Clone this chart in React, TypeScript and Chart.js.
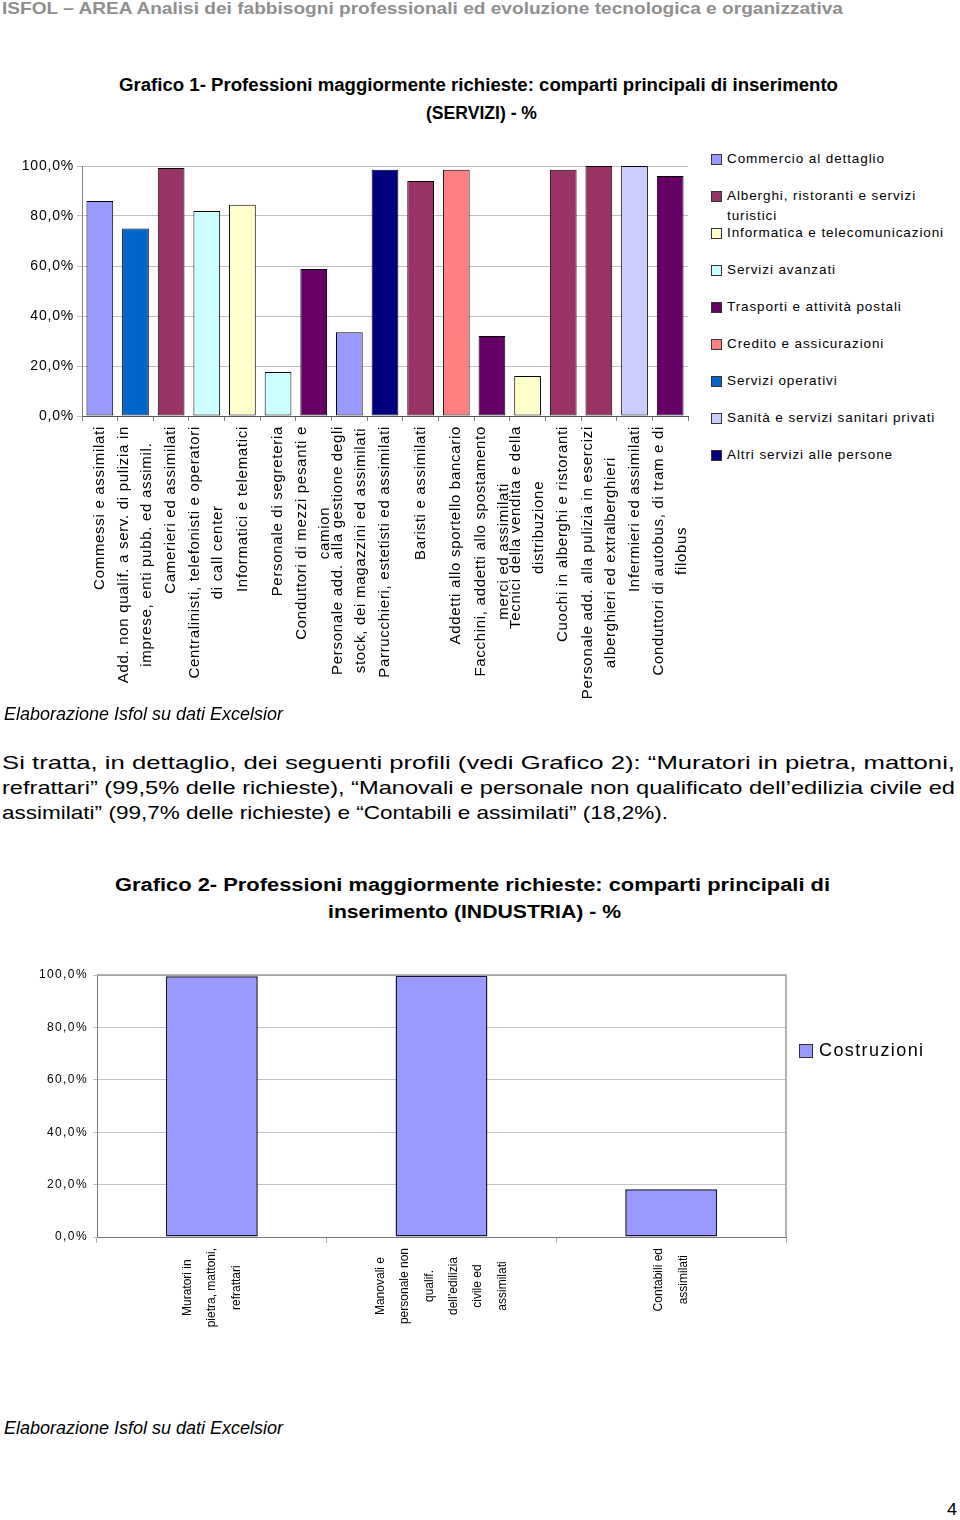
import React, { useEffect, useLayoutEffect, useRef } from 'react';
import { Chart, registerables } from 'chart.js';

Chart.register(...registerables);

// ---------- DATA: Grafico 1 (SERVIZI) ----------
const categories1: string[][] = [
  ['Commessi e assimilati'],
  ['Add. non qualif. a serv. di pulizia in', 'imprese, enti pubb. ed assimil.'],
  ['Camerieri ed assimilati'],
  ['Centralinisti, telefonisti e operatori', 'di call center'],
  ['Informatici e telematici'],
  ['Personale di segreteria'],
  ['Conduttori di mezzi pesanti e', 'camion'],
  ['Personale add. alla gestione degli', 'stock, dei magazzini ed assimilati'],
  ['Parrucchieri, estetisti ed assimilati'],
  ['Baristi e assimilati'],
  ['Addetti allo sportello bancario'],
  ['Facchini, addetti allo spostamento', 'merci ed assimilati'],
  ['Tecnici della vendita e della', 'distribuzione'],
  ['Cuochi in alberghi e ristoranti'],
  ['Personale add. alla pulizia in esercizi', 'alberghieri ed extralberghieri'],
  ['Infermieri ed assimilati'],
  ['Conduttori di autobus, di tram e di', 'filobus'],
];
const values1: number[] = [86, 75, 99.2, 82, 84.5, 17.6, 58.8, 33.5, 98.5, 94, 98.5, 32, 16, 98.5, 100, 100, 96];
// index into sectors1 for each category
const sectorOf1: number[] = [0, 6, 1, 3, 2, 3, 4, 0, 8, 1, 5, 4, 2, 1, 1, 7, 4];
const sectors1: string[] = [
  'Commercio al dettaglio',
  'Alberghi, ristoranti e servizi turistici',
  'Informatica e telecomunicazioni',
  'Servizi avanzati',
  'Trasporti e attività postali',
  'Credito e assicurazioni',
  'Servizi operativi',
  'Sanità e servizi sanitari privati',
  'Altri servizi alle persone',
];
const sectorColors1: string[] = ['#9999FF', '#993366', '#FFFFCC', '#CCFFFF', '#660066', '#FF8080', '#0066CC', '#CCCCFF', '#000080'];

// ---------- DATA: Grafico 2 (INDUSTRIA) ----------
const categories2: string[][] = [
  ['Muratori in', 'pietra, mattoni,', 'refrattari'],
  ['Manovali e', 'personale non', 'qualif.', 'dell\u2019edilizia', 'civile ed', 'assimilati'],
  ['Contabili ed', 'assimilati'],
];
const values2: number[] = [99.5, 99.7, 18.2];
const series2 = 'Costruzioni';
const color2 = '#9999FF';

const fmtPct = (v: number | string) => Number(v).toFixed(1).replace('.', ',') + '%';

function labelPlugin(id: string, labels: string[][], font: string, spacing: number, topOffset: number, ls: string) {
  return {
    id,
    afterDraw(chart: any) {
      const ctx = chart.ctx as CanvasRenderingContext2D;
      const xs = chart.scales.x;
      ctx.save();
      ctx.font = font;
      (ctx as any).letterSpacing = ls;
      ctx.fillStyle = '#000';
      ctx.textAlign = 'center';
      ctx.textBaseline = 'middle';
      labels.forEach((lines, i) => {
        const px = xs.getPixelForValue(i);
        const maxW = Math.max(...lines.map((l) => ctx.measureText(l).width));
        const top = chart.chartArea.bottom + topOffset;
        ctx.save();
        ctx.translate(px, top + maxW / 2);
        ctx.rotate(-Math.PI / 2);
        lines.forEach((l, j) => ctx.fillText(l, 0, (j - (lines.length - 1) / 2) * spacing));
        ctx.restore();
      });
      ctx.restore();
    },
  };
}

function spacingPlugin(ls: string) {
  return {
    id: 'ls',
    beforeUpdate(chart: any) { (chart.ctx as any).letterSpacing = ls; },
    beforeDraw(chart: any) { (chart.ctx as any).letterSpacing = ls; },
    afterDraw(chart: any) { (chart.ctx as any).letterSpacing = '0px'; },
  };
}

const frameRightPlugin = {
  id: 'frameRight',
  afterDatasetsDraw(chart: any) {
    const { ctx, chartArea } = chart;
    ctx.save();
    ctx.strokeStyle = '#999';
    ctx.lineWidth = 1.5;
    ctx.beginPath();
    ctx.moveTo(chartArea.left, chartArea.top);
    ctx.lineTo(chartArea.right, chartArea.top);
    ctx.lineTo(chartArea.right, chartArea.bottom);
    ctx.stroke();
    ctx.restore();
  },
};

function Chart1() {
  const ref = useRef<HTMLCanvasElement>(null);
  useEffect(() => {
    if (!ref.current) return;
    const chart = new Chart(ref.current, {
      type: 'bar',
      data: {
        labels: categories1.map((c) => c.join(' ')),
        datasets: sectors1.map((name, s) => ({
          label: name,
          data: values1.map((v, i) => (sectorOf1[i] === s ? v : null)),
          backgroundColor: sectorColors1[s],
          borderColor: '#000',
          borderWidth: 1,
          borderSkipped: false,
          grouped: false,
          barPercentage: 0.75,
          categoryPercentage: 1,
        })) as any,
      },
      options: {
        responsive: false,
        animation: false,
        layout: { padding: { top: 16, right: 12, bottom: 0, left: 0 } },
        plugins: { legend: { display: false }, tooltip: { enabled: false }, title: { display: false } },
        scales: {
          x: {
            ticks: { display: false },
            grid: { display: true, drawOnChartArea: false, drawTicks: true, tickLength: 5, color: '#808080', offset: true },
            border: { color: '#555', width: 1 },
            afterFit: (s: any) => { s.height = 294; },
          },
          y: {
            min: 0,
            max: 100,
            ticks: { stepSize: 20, callback: (v: any) => fmtPct(v), color: '#000', font: { family: 'Liberation Sans, Arial, sans-serif', size: 14 }, padding: 3 },
            grid: { color: '#c0c0c0', tickLength: 5, drawTicks: true },
            border: { color: '#808080', width: 1 },
            afterFit: (s: any) => { s.width = 82; },
          },
        },
      },
      plugins: [spacingPlugin('0.8px'), labelPlugin('xl1', categories1, '15px "Liberation Sans", Arial, sans-serif', 23, 10, '0.7px')],
    } as any);
    return () => chart.destroy();
  }, []);
  return <canvas ref={ref} width={700} height={560} style={{ position: 'absolute', left: 0, top: 150, width: 700, height: 560 }} />;
}

function Chart2() {
  const ref = useRef<HTMLCanvasElement>(null);
  useEffect(() => {
    if (!ref.current) return;
    const chart = new Chart(ref.current, {
      type: 'bar',
      data: {
        labels: categories2.map((c) => c.join(' ')),
        datasets: [
          {
            label: series2,
            data: values2,
            backgroundColor: color2,
            borderColor: '#111133',
            borderWidth: 1.5,
            borderSkipped: false,
            barPercentage: 0.4,
            categoryPercentage: 1,
          },
        ],
      },
      options: {
        responsive: false,
        animation: false,
        layout: { padding: { top: 25, right: 14, bottom: 0, left: 0 } },
        plugins: { legend: { display: false }, tooltip: { enabled: false } },
        scales: {
          x: {
            ticks: { display: false },
            grid: { display: true, drawOnChartArea: false, drawTicks: true, tickLength: 6, color: '#b0b0b0', offset: true },
            border: { color: '#777', width: 1 },
            afterFit: (s: any) => { s.height = 133; },
          },
          y: {
            min: 0,
            max: 100,
            ticks: { stepSize: 20, callback: (v: any) => fmtPct(v), color: '#000', font: { family: 'Liberation Sans, Arial, sans-serif', size: 12 }, padding: 5 },
            grid: { color: '#c4c4c4', tickLength: 4, drawTicks: true },
            border: { color: '#777', width: 1 },
            afterFit: (s: any) => { s.width = 97; },
          },
        },
      },
      plugins: [spacingPlugin('1.4px'), frameRightPlugin, labelPlugin('xl2', categories2, '12px "Liberation Sans", Arial, sans-serif', 24.4, 11, '0px')],
    } as any);
    return () => chart.destroy();
  }, []);
  return <canvas ref={ref} width={800} height={420} style={{ position: 'absolute', left: 0, top: 950, width: 800, height: 420 }} />;
}

type FitProps = { text: string; x: number; y: number; w: number; size: number; bold?: boolean; italic?: boolean; color?: string };

function FitText({ text, x, y, w, size, bold, italic, color }: FitProps) {
  const ref = useRef<HTMLSpanElement>(null);
  useLayoutEffect(() => {
    const fit = () => {
      const el = ref.current;
      if (!el) return;
      el.style.transform = 'none';
      const nat = el.getBoundingClientRect().width;
      if (nat > 0) el.style.transform = `scaleX(${w / nat})`;
    };
    fit();
    (document as any).fonts?.ready?.then(fit);
  }, [text, w]);
  return (
    <span
      ref={ref}
      style={{
        position: 'absolute',
        left: x,
        top: y - size * 0.6,
        whiteSpace: 'pre',
        fontFamily: '"Liberation Sans", Arial, sans-serif',
        fontSize: size,
        lineHeight: `${size * 1.2}px`,
        fontWeight: bold ? 'bold' : 'normal',
        fontStyle: italic ? 'italic' : 'normal',
        color: color || '#000',
        transformOrigin: '0 50%',
      }}
    >
      {text}
    </span>
  );
}

function Legend1() {
  return (
    <>
      {sectors1.map((name, i) => (
        <div key={name} style={{ position: 'absolute', left: 711, top: 149 + i * 37, width: 245 }}>
          <div style={{ position: 'absolute', left: 0, top: 5, width: 9, height: 9, background: sectorColors1[i], border: '1px solid #333' }} />
          <div
            style={{
              position: 'absolute',
              left: 16,
              top: 0,
              width: 232,
              fontFamily: '"Liberation Sans", Arial, sans-serif',
              fontSize: 13.5,
              lineHeight: '20px',
              letterSpacing: '0.9px',
              color: '#000',
            }}
          >
            {name}
          </div>
        </div>
      ))}
    </>
  );
}

function Legend2() {
  return (
    <div style={{ position: 'absolute', left: 799, top: 1039 }}>
      <div style={{ position: 'absolute', left: 0, top: 5, width: 12, height: 12, background: color2, border: '1px solid #333' }} />
      <div style={{ position: 'absolute', left: 20, top: 0, whiteSpace: 'nowrap', fontFamily: '"Liberation Sans", Arial, sans-serif', fontSize: 18, lineHeight: '22px', letterSpacing: '1.4px' }}>
        {series2}
      </div>
    </div>
  );
}

export default function App() {
  return (
    <div style={{ position: 'absolute', left: 0, top: 0, width: 960, height: 1520, background: '#fff', overflow: 'hidden' }}>
      <FitText text={'ISFOL \u2013 AREA Analisi dei fabbisogni professionali ed evoluzione tecnologica e organizzativa'} x={2} y={9} w={841} size={17} bold color="#8f8f8f" />
      <FitText text="Grafico 1- Professioni maggiormente richieste: comparti principali di inserimento" x={119} y={86} w={719} size={18} bold />
      <FitText text="(SERVIZI) - %" x={426} y={114} w={111} size={18} bold />
      <Chart1 />
      <Legend1 />
      <FitText text="Elaborazione Isfol su dati Excelsior" x={4} y={714} w={279} size={17.5} italic />
      <FitText text={'Si tratta, in dettaglio, dei seguenti profili (vedi Grafico 2): \u201cMuratori in pietra, mattoni,'} x={2} y={763} w={953} size={19} />
      <FitText text={'refrattari\u201d (99,5% delle richieste), \u201cManovali e personale non qualificato dell\u2019edilizia civile ed'} x={2} y={788} w={953} size={19} />
      <FitText text={'assimilati\u201d (99,7% delle richieste) e \u201cContabili e assimilati\u201d (18,2%).'} x={2} y={813} w={666} size={19} />
      <FitText text="Grafico 2- Professioni maggiormente richieste: comparti principali di" x={115} y={886} w={715} size={18} bold />
      <FitText text="inserimento (INDUSTRIA) - %" x={328} y={913} w={293} size={18} bold />
      <Chart2 />
      <Legend2 />
      <FitText text="Elaborazione Isfol su dati Excelsior" x={4} y={1428} w={279} size={17.5} italic />
      <FitText text="4" x={947} y={1510} w={10} size={17} />
    </div>
  );
}
